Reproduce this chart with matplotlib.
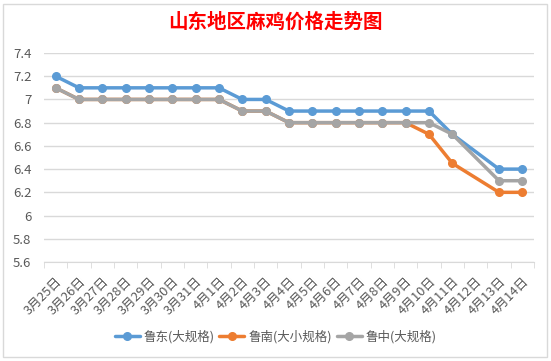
import numpy as np
import matplotlib
matplotlib.use("Agg")
from matplotlib import pyplot as plt
from matplotlib.patches import Rectangle

plt.rcParams['font.family'] = ['Noto Sans CJK SC', 'DejaVu Sans']

dates = ["3月25日", "3月26日", "3月27日", "3月28日", "3月29日", "3月30日", "3月31日",
         "4月1日", "4月2日", "4月3日", "4月4日", "4月5日", "4月6日", "4月7日",
         "4月8日", "4月9日", "4月10日", "4月11日", "4月12日", "4月13日", "4月14日"]
ludong = [7.2, 7.1, 7.1, 7.1, 7.1, 7.1, 7.1, 7.1, 7.0, 7.0, 6.9, 6.9, 6.9, 6.9,
          6.9, 6.9, 6.9, 6.7, np.nan, 6.4, 6.4]
lunan = [7.1, 7.0, 7.0, 7.0, 7.0, 7.0, 7.0, 7.0, 6.9, 6.9, 6.8, 6.8, 6.8, 6.8,
         6.8, 6.8, 6.7, 6.45, np.nan, 6.2, 6.2]
luzhong = [7.1, 7.0, 7.0, 7.0, 7.0, 7.0, 7.0, 7.0, 6.9, 6.9, 6.8, 6.8, 6.8, 6.8,
           6.8, 6.8, 6.8, 6.7, np.nan, 6.3, 6.3]

series = [("鲁东(大规格)", ludong, "#5B9BD5"),
          ("鲁南(大小规格)", lunan, "#ED7D31"),
          ("鲁中(大规格)", luzhong, "#A5A5A5")]

fig = plt.figure(figsize=(5.51, 3.61), dpi=100)
fig.patches.append(Rectangle((3/551, 4/361), 544/551, 353/361, transform=fig.transFigure,
                             fill=False, edgecolor="#D9D9D9", linewidth=1))
ax = fig.add_axes([44/551, 1-262/361, 490/551, 209/361])

x = np.arange(len(dates))
for name, vals, col in series:
    y = np.array(vals, dtype=float)
    m = ~np.isnan(y)
    ax.plot(x[m], y[m], color=col, linewidth=2.5, marker="o", markersize=5.5,
            label=name, solid_capstyle="round")

ax.set_xlim(-0.5, len(dates) - 0.5)
ax.set_ylim(5.6, 7.4)
yt = np.round(np.arange(5.6, 7.41, 0.2), 1)
ax.set_yticks(yt)
ax.set_yticklabels([("%g" % v) for v in yt])
ax.yaxis.grid(True, color="#D9D9D9", linewidth=1)
ax.set_axisbelow(True)

ax.set_xticks(x)
ax.set_xticklabels(dates, rotation=45, ha="right", va="top", rotation_mode="anchor")
ax.set_xticks(np.arange(-0.5, len(dates), 1), minor=True)
ax.tick_params(axis="x", which="major", length=0, pad=9, labelsize=9.3, labelcolor="#595959")
ax.tick_params(axis="x", which="minor", length=4, color="#D9D9D9")
ax.tick_params(axis="y", length=0, pad=9, labelsize=9.5, labelcolor="#595959")

for s in ["top", "right", "left"]:
    ax.spines[s].set_visible(False)
ax.spines["bottom"].set_color("#D9D9D9")

fig.text(0.5, 1-22/361, "山东地区麻鸡价格走势图", ha="center", va="center",
         color="#FF0000", fontsize=14, fontweight="bold")

fig.legend(loc="center", bbox_to_anchor=(0.5, 1-337/361), ncol=3, frameon=False,
           fontsize=9, handlelength=2.0, handletextpad=0.3, columnspacing=0.4,
           labelcolor="#595959")

fig.savefig("out.png", dpi=100)
